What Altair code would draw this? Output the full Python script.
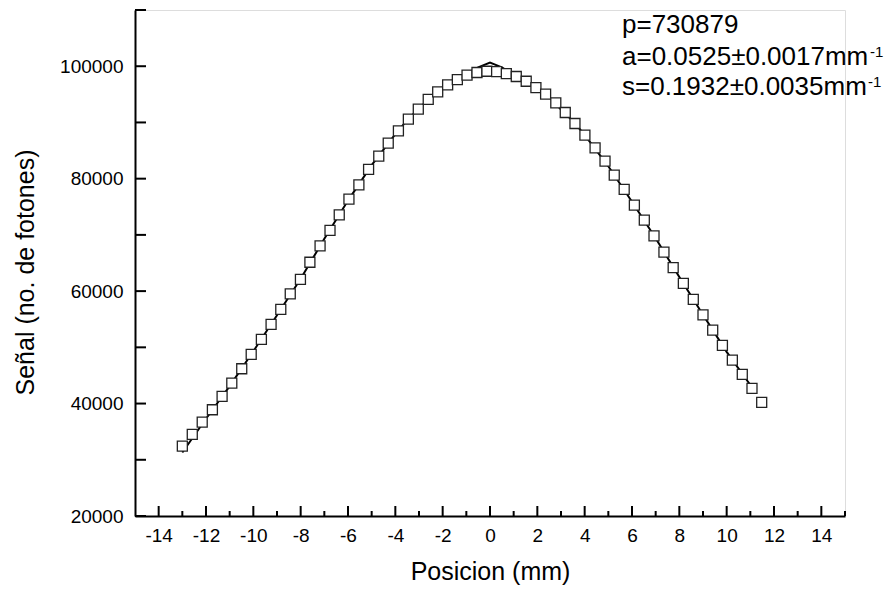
import altair as alt
import pandas as pd

# Measured points (Posicion in mm, Señal in photon counts)
pos_mm = [-13.00, -12.58, -12.16, -11.73, -11.32, -10.91, -10.49, -10.09, -9.66, -9.25,
          -8.84, -8.44, -8.01, -7.61, -7.18, -6.76, -6.37, -5.96, -5.54, -5.13,
          -4.70, -4.30, -3.87, -3.45, -3.03, -2.61, -2.21, -1.79, -1.38, -0.97,
          -0.55, -0.13, 0.28, 0.69, 1.11, 1.53, 1.94, 2.35, 2.78, 3.18,
          3.59, 4.01, 4.44, 4.86, 5.25, 5.67, 6.10, 6.52, 6.93, 7.35,
          7.74, 8.17, 8.59, 9.00, 9.41, 9.82, 10.24, 10.66, 11.07, 11.48]
signal = [32440, 34520, 36710, 38900, 41280, 43650, 46190, 48750, 51410, 54080,
          56750, 59520, 62100, 65130, 68050, 70790, 73570, 76360, 78900, 81640,
          84000, 86310, 88500, 90580, 92360, 94100, 95430, 96680, 97630, 98400,
          98880, 99110, 99050, 98700, 98170, 97330, 96210, 95020, 93470, 91770,
          89810, 87730, 85470, 83110, 80620, 78080, 75290, 72620, 69830, 66940,
          64180, 61370, 58520, 55790, 53070, 50350, 47730, 45190, 42700, 40210]

# Fitted curve
fit_x = [-13, -12, -11, -10, -9, -8, -7, -6, -5, -4, -3.5, -3, -2.5, -2, -1.5, -1, -0.5, 0,
         0.5, 1, 1.5, 2, 2.5, 3, 3.5, 4, 5, 6, 7, 8, 9, 10, 11]
fit_y = [31300, 37300, 43100, 49300, 55700, 62200, 69300, 76100, 82400, 87900, 90400, 92500,
         94500, 96100, 97600, 98700, 99800, 100650, 99800, 98500, 97400, 95900, 94500,
         92300, 90250, 87800, 82200, 75900, 69400, 62500, 55800, 49200, 43300]

# Axis ticks and labels
x_label_ticks = [-14, -12, -10, -8, -6, -4, -2, 0, 2, 4, 6, 8, 10, 12, 14]
x_minor_ticks = [-13, -11, -9, -7, -5, -3, -1, 1, 3, 5, 7, 9, 11, 13, 15]
y_label_ticks = [20000, 40000, 60000, 80000, 100000]
y_all_ticks = [20000, 30000, 40000, 50000, 60000, 70000, 80000, 90000, 100000, 110000]

ann_lines = ["p=730879", "a=0.0525\u00b10.0017mm", "s=0.1932\u00b10.0035mm"]
ann_sup = "-1"

FONT = "Liberation Sans"
W, H = 710, 506

xscale = alt.Scale(domain=[-15, 15], nice=False, zero=False)
yscale = alt.Scale(domain=[20000, 110000], nice=False, zero=False)

xaxis = alt.Axis(values=x_label_ticks, labelExpr="toString(datum.value)",
                 title="Posicion (mm)", titleFont=FONT, titleFontSize=25,
                 titleFontWeight="normal", titleColor="black", titleX=355, titleY=63,
                 titleBaseline="alphabetic", labelFont=FONT, labelFontSize=19, labelColor="black",
                 labelPadding=10, ticks=False, tickSize=0, domainWidth=2, domainColor="black",
                 grid=False, labelFlush=False, labelOverlap=False)
yaxis = alt.Axis(values=y_label_ticks, labelExpr="toString(datum.value)",
                 title="Señal (no. de fotones)", titleFont=FONT,
                 titleFontSize=25, titleFontWeight="normal", titleColor="black", titleAngle=270,
                 titleX=-110, titleY=262, titleBaseline="middle", titleAlign="center",
                 labelFont=FONT, labelFontSize=19, labelColor="black", labelPadding=12,
                 ticks=False, tickSize=0, domainWidth=2, domainColor="black", grid=False,
                 labelFlush=False, labelOverlap=False)

pts = pd.DataFrame({"x": pos_mm, "y": signal})
fit = pd.DataFrame({"x": fit_x, "y": fit_y})

line = alt.Chart(fit).mark_line(color="black", strokeWidth=2).encode(
    x=alt.X("x:Q", scale=xscale, axis=xaxis),
    y=alt.Y("y:Q", scale=yscale, axis=yaxis),
)
points = alt.Chart(pts).mark_point(shape="square", size=100, filled=False, fill="white",
                                   fillOpacity=1, stroke="#222222", strokeWidth=1.3,
                                   opacity=1).encode(
    x=alt.X("x:Q", scale=xscale),
    y=alt.Y("y:Q", scale=yscale),
)

xmaj = alt.Chart(pd.DataFrame({"x": x_label_ticks})).mark_rule(color="black", strokeWidth=2).encode(
    x=alt.X("x:Q", scale=xscale), y=alt.value(H - 10), y2=alt.value(H))
xmin = alt.Chart(pd.DataFrame({"x": x_minor_ticks})).mark_rule(color="black", strokeWidth=2).encode(
    x=alt.X("x:Q", scale=xscale), y=alt.value(H - 5), y2=alt.value(H))
yt = alt.Chart(pd.DataFrame({"y": y_all_ticks})).mark_rule(color="black", strokeWidth=2).encode(
    y=alt.Y("y:Q", scale=yscale), x=alt.value(0), x2=alt.value(11))

ann_df = pd.DataFrame({"t": [0]})
texts = []
for txt, yy in zip(ann_lines, [23, 55, 85]):
    texts.append(alt.Chart(ann_df).mark_text(align="left", baseline="alphabetic", font=FONT,
                                             fontSize=26, color="black").encode(
        x=alt.value(487), y=alt.value(yy), text=alt.value(txt)))
for xx, yy in [(735, 47), (733, 77)]:
    texts.append(alt.Chart(ann_df).mark_text(align="left", baseline="alphabetic", font=FONT,
                                             fontSize=15, color="black").encode(
        x=alt.value(xx), y=alt.value(yy), text=alt.value(ann_sup)))

chart = alt.layer(line, points, xmaj, xmin, yt, *texts).properties(
    width=W, height=H, autosize="none",
    padding={"left": 127, "top": 2, "right": 40, "bottom": 72},
).configure_view(strokeWidth=0).configure(background="white")

chart.save("out.html", embed_options={"renderer": "svg", "actions": False})
